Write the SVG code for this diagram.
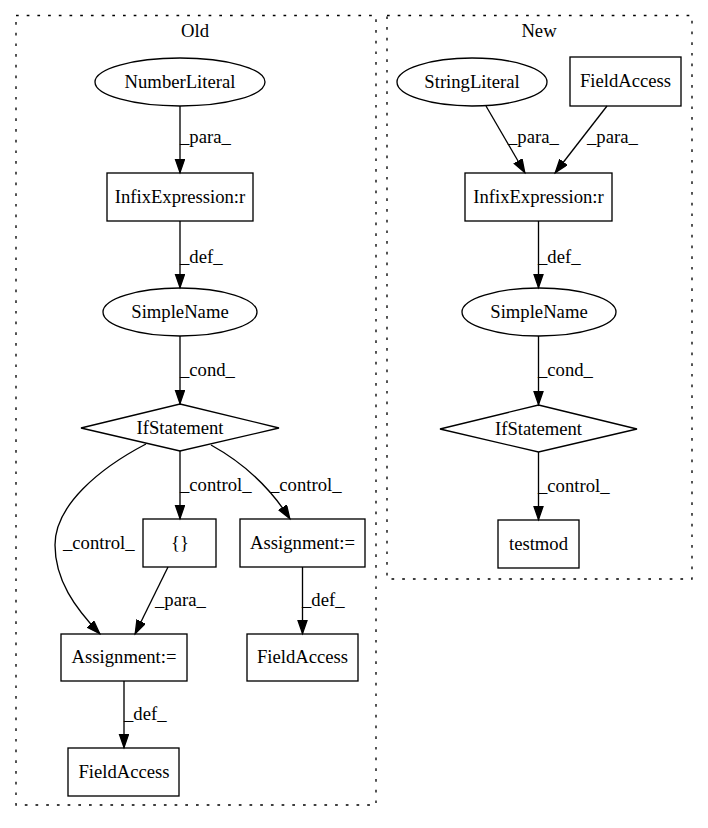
<svg xmlns="http://www.w3.org/2000/svg" width="708" height="828" viewBox="0 0 708 828">
<style>
text{font-family:"Liberation Serif","Times New Roman",serif;font-size:18.67px;fill:#000}
.n{fill:none;stroke:#000;stroke-width:1.33}
.c{fill:none;stroke:#000;stroke-width:1.33;stroke-dasharray:2.7,8}
.e{fill:none;stroke:#000;stroke-width:1.33;marker-end:url(#a)}
.m{text-anchor:middle}
</style>
<defs>
<marker id="a" markerUnits="userSpaceOnUse" markerWidth="16" markerHeight="12" refX="14" refY="5" orient="auto">
<path d="M0.5,0.5 L13.5,5 L0.5,9.5 z" fill="#000" stroke="#000" stroke-width="1.33"/>
</marker>
</defs>
<rect width="708" height="828" fill="#fff"/>
<g id="cluster_old">
<rect class="c" x="16" y="15.5" width="360" height="789.5"/>
<text class="m" x="195" y="37">Old</text>
</g>
<g id="cluster_new">
<rect class="c" x="387" y="15.5" width="305" height="563.5"/>
<text class="m" x="539" y="37">New</text>
</g>
<g id="connectors">
<path class="e" d="M180,106 L180,173"/>
<text x="180" y="143">_para_</text>
<path class="e" d="M180,221 L180,288"/>
<text x="180" y="263">_def_</text>
<path class="e" d="M180,336 L180,404"/>
<text x="180" y="376">_cond_</text>
<path class="e" d="M180,451 L180,519"/>
<text x="180" y="491">_control_</text>
<path class="e" d="M211,445 C240,461 268,484 290,519"/>
<text x="270" y="491">_control_</text>
<path class="e" d="M146,444 C100,468 55,505 55,545 C55,580 75,608 100,634"/>
<text x="63" y="549">_control_</text>
<path class="e" d="M168,567 L135,634"/>
<text x="155" y="606">_para_</text>
<path class="e" d="M302.5,567 L302.5,634"/>
<text x="302" y="606">_def_</text>
<path class="e" d="M124,681 L124,748"/>
<text x="124" y="720">_def_</text>
<path class="e" d="M486,106 L525,173"/>
<text x="508" y="143">_para_</text>
<path class="e" d="M607,106 L555,173"/>
<text x="587" y="143">_para_</text>
<path class="e" d="M538.5,221 L538.5,288"/>
<text x="538" y="263">_def_</text>
<path class="e" d="M538.5,336 L538.5,405"/>
<text x="538" y="376">_cond_</text>
<path class="e" d="M538.5,452 L538.5,520"/>
<text x="538" y="492">_control_</text>
</g>
<g id="old_numberliteral"><ellipse class="n" cx="180" cy="82" rx="85" ry="24"/><text class="m" x="180" y="88">NumberLiteral</text></g>
<g id="old_infix"><rect class="n" x="107" y="173" width="146" height="48"/><text class="m" x="180" y="203">InfixExpression:r</text></g>
<g id="old_simplename"><ellipse class="n" cx="180" cy="312" rx="77" ry="24"/><text class="m" x="180" y="318">SimpleName</text></g>
<g id="old_if"><polygon class="n" points="180,404 279,428 180,451 81,428"/><text class="m" x="180" y="434">IfStatement</text></g>
<g id="old_block"><rect class="n" x="143" y="519" width="73" height="48"/><text class="m" x="180" y="549">{}</text></g>
<g id="old_assign_r"><rect class="n" x="240" y="519" width="125" height="48"/><text class="m" x="302.5" y="549">Assignment:=</text></g>
<g id="old_assign_l"><rect class="n" x="61" y="634" width="126" height="47"/><text class="m" x="124" y="663">Assignment:=</text></g>
<g id="old_field_r"><rect class="n" x="247" y="634" width="111" height="47"/><text class="m" x="302.5" y="663">FieldAccess</text></g>
<g id="old_field_b"><rect class="n" x="68" y="748" width="111" height="48"/><text class="m" x="124" y="778">FieldAccess</text></g>
<g id="new_stringliteral"><ellipse class="n" cx="472" cy="82" rx="75" ry="24"/><text class="m" x="472" y="88">StringLiteral</text></g>
<g id="new_field"><rect class="n" x="570" y="57" width="111" height="49"/><text class="m" x="625.5" y="87">FieldAccess</text></g>
<g id="new_infix"><rect class="n" x="465" y="173" width="147" height="48"/><text class="m" x="538.5" y="203">InfixExpression:r</text></g>
<g id="new_simplename"><ellipse class="n" cx="539" cy="312" rx="77" ry="24"/><text class="m" x="539" y="318">SimpleName</text></g>
<g id="new_if"><polygon class="n" points="538.5,405 637,429 538.5,452 440,429"/><text class="m" x="538.5" y="435">IfStatement</text></g>
<g id="new_testmod"><rect class="n" x="498" y="520" width="81" height="48"/><text class="m" x="538.5" y="550">testmod</text></g>
</svg>
